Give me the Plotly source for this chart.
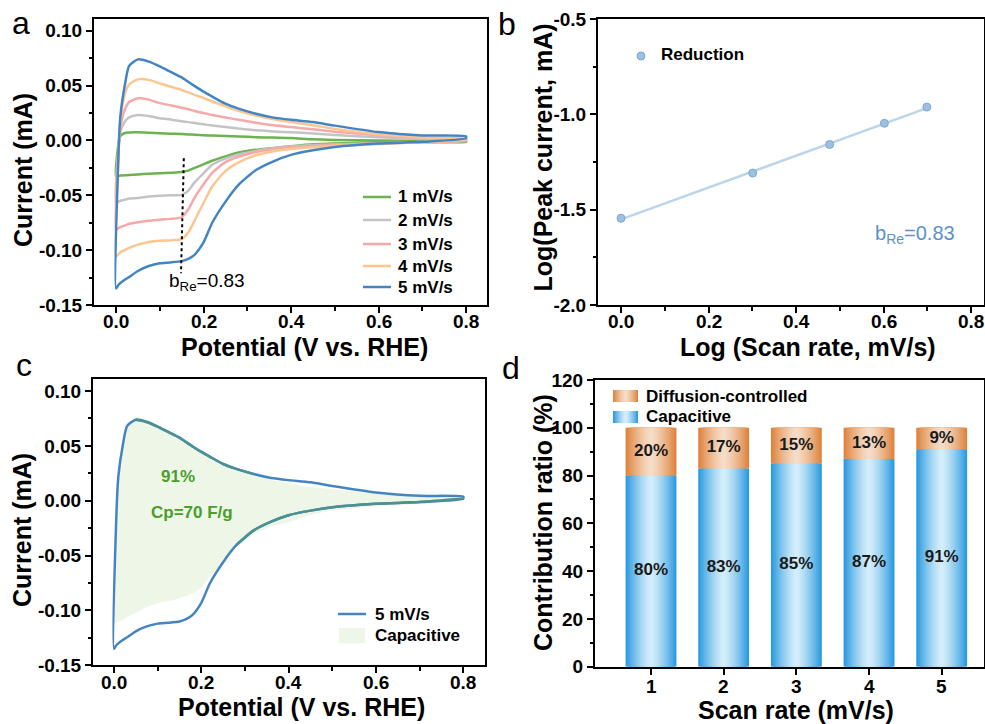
import numpy as np
import plotly.graph_objects as go

W, H = 985, 724
FONT = "Arial, 'Liberation Sans', sans-serif"

# ---------------- Panel a / c : cyclic voltammograms ----------------
V_GRID = [0.0, 0.005, 0.01, 0.02, 0.03, 0.05, 0.075, 0.1, 0.125, 0.15, 0.165, 0.18,
          0.2, 0.22, 0.25, 0.28, 0.32, 0.36, 0.4, 0.45, 0.5, 0.6, 0.7, 0.8]

I_UP_1 = [-0.0323, -0.005, 0.004, 0.0068, 0.0073, 0.0074, 0.007, 0.0065, 0.0062, 0.0058, 0.0055, 0.0052,
          0.0048, 0.0044, 0.004, 0.0036, 0.003, 0.0026, 0.0022, 0.001, 0.0005, 0.0, -0.0004, -0.0006]
I_DN_1 = [-0.0323, -0.0322, -0.032, -0.0318, -0.0315, -0.031, -0.0303, -0.0298, -0.0294, -0.0288, -0.0275, -0.025,
          -0.0218, -0.0185, -0.0145, -0.011, -0.0085, -0.0068, -0.0052, -0.0035, -0.0028, -0.002, -0.0016, -0.0012]

I_UP_2 = [-0.0566, -0.01, 0.008, 0.017, 0.021, 0.0232, 0.0222, 0.0203, 0.019, 0.0175, 0.0167, 0.0158,
          0.0147, 0.0137, 0.0122, 0.0108, 0.0094, 0.0082, 0.0074, 0.0064, 0.005, 0.0029, 0.0014, 0.0005]
I_DN_2 = [-0.0566, -0.056, -0.055, -0.054, -0.053, -0.0525, -0.0512, -0.0505, -0.050, -0.0496, -0.046, -0.038,
          -0.030, -0.0222, -0.0166, -0.0128, -0.0095, -0.0072, -0.0055, -0.0042, -0.0036, -0.0026, -0.0015, -0.0005]

I_UP_3 = [-0.0814, -0.015, 0.012, 0.028, 0.035, 0.0384, 0.0372, 0.034, 0.032, 0.0298, 0.0285, 0.0268,
          0.025, 0.0232, 0.021, 0.0188, 0.0162, 0.0138, 0.0122, 0.0102, 0.008, 0.0047, 0.002, 0.001]
I_DN_3 = [-0.0814, -0.080, -0.079, -0.0775, -0.076, -0.0745, -0.0732, -0.0722, -0.0715, -0.070, -0.063, -0.052,
          -0.040, -0.0295, -0.0198, -0.015, -0.0105, -0.0078, -0.0062, -0.0052, -0.0042, -0.003, -0.0015, 0.0]

I_UP_4 = [-0.1057, -0.02, 0.018, 0.042, 0.051, 0.0557, 0.0552, 0.052, 0.049, 0.046, 0.0438, 0.0415,
          0.0388, 0.0355, 0.0312, 0.027, 0.0226, 0.0192, 0.0168, 0.0138, 0.0105, 0.0056, 0.0027, 0.0015]
I_DN_4 = [-0.1057, -0.104, -0.102, -0.100, -0.098, -0.095, -0.0925, -0.0914, -0.0911, -0.090, -0.084, -0.0727,
          -0.057, -0.042, -0.028, -0.020, -0.0135, -0.0098, -0.0078, -0.0062, -0.0048, -0.0033, -0.0015, 0.001]

I_UP_5 = [-0.135, -0.02, 0.022, 0.05, 0.068, 0.0739, 0.0718, 0.0675, 0.0625, 0.0575, 0.0535, 0.0495,
          0.0445, 0.040, 0.0335, 0.029, 0.0243, 0.0208, 0.0188, 0.0168, 0.0135, 0.0076, 0.0045, 0.0037]
I_DN_5 = [-0.135, -0.132, -0.130, -0.127, -0.1245, -0.119, -0.1145, -0.112, -0.1112, -0.110, -0.108, -0.104,
          -0.093, -0.075, -0.056, -0.0405, -0.027, -0.019, -0.0132, -0.009, -0.006, -0.0028, -0.0012, 0.002]

# capacitive contribution envelope at 5 mV/s (panel c)
CAP_UP = [-0.112, -0.01, 0.03, 0.056, 0.070, 0.0765, 0.0742, 0.0688, 0.0635, 0.0585, 0.0545, 0.0505,
          0.0455, 0.041, 0.034, 0.029, 0.0235, 0.019, 0.0158, 0.0125, 0.0105, 0.0068, 0.0048, 0.002]
CAP_DN = [-0.112, -0.111, -0.110, -0.109, -0.106, -0.102, -0.097, -0.0935, -0.0915, -0.089, -0.0868, -0.0845,
          -0.079, -0.069, -0.0555, -0.0425, -0.031, -0.0232, -0.0195, -0.013, -0.009, -0.0052, -0.003, 0.0]

CV_LABELS = ["1 mV/s", "2 mV/s", "3 mV/s", "4 mV/s", "5 mV/s"]
CV_UP = [I_UP_1, I_UP_2, I_UP_3, I_UP_4, I_UP_5]
CV_DN = [I_DN_1, I_DN_2, I_DN_3, I_DN_4, I_DN_5]
CV_COLORS = ["#6cb24f", "#c4c4c4", "#f7a8a8", "#fbc690", "#4584c2"]

CV_Y_TICKS = [-0.15, -0.10, -0.05, 0.00, 0.05, 0.10]
CV_X_TICKS = [0.0, 0.2, 0.4, 0.6, 0.8]

# ---------------- Panel b : log(ip) vs log(v) ----------------
LOG_SCAN = [0.0, 0.301, 0.477, 0.602, 0.699]
LOG_PEAK = [-1.545, -1.308, -1.158, -1.047, -0.962]
B_Y_TICKS = [-2.0, -1.5, -1.0, -0.5]

# ---------------- Panel d : contribution ratio ----------------
SCAN_RATES = [1, 2, 3, 4, 5]
CAPACITIVE = [80, 83, 85, 87, 91]
DIFFUSION = [20, 17, 15, 13, 9]
D_Y_TICKS = [0, 20, 40, 60, 80, 100, 120]


def px(x):
    return x / W


def py(y):
    return 1 - y / H


def loop(up, dn):
    return V_GRID + V_GRID[::-1], list(up) + list(dn)[::-1]


fig = go.Figure()

# Panel a
for lab, up, dn, col in zip(CV_LABELS, CV_UP, CV_DN, CV_COLORS):
    xs, ys = loop(up, dn)
    fig.add_trace(go.Scatter(x=xs, y=ys, mode="lines", name=lab,
                             line=dict(color=col, width=2.5, shape="spline", smoothing=0.6),
                             xaxis="x", yaxis="y", showlegend=False, hoverinfo="skip"))

# Panel b
coef = np.polyfit(LOG_SCAN, LOG_PEAK, 1)
fit_x = [LOG_SCAN[0], LOG_SCAN[-1]]
fit_y = [coef[0] * v + coef[1] for v in fit_x]
fig.add_trace(go.Scatter(x=fit_x, y=fit_y, mode="lines", line=dict(color="#bcd5ea", width=2.5),
                         xaxis="x2", yaxis="y2", showlegend=False, hoverinfo="skip"))
fig.add_trace(go.Scatter(x=LOG_SCAN, y=LOG_PEAK, mode="markers", name="Reduction",
                         marker=dict(size=8, color="#9cc0e0", line=dict(color="#7ea9d2", width=1)),
                         xaxis="x2", yaxis="y2", showlegend=False, hoverinfo="skip"))

# Panel c
cx, cy = loop(CAP_UP, CAP_DN)
fig.add_trace(go.Scatter(x=cx, y=cy, mode="lines", fill="toself", fillcolor="#edf6e7",
                         line=dict(width=0, color="#edf6e7", shape="spline", smoothing=0.6),
                         xaxis="x3", yaxis="y3", showlegend=False, hoverinfo="skip"))
bx, by = loop(I_UP_5, I_DN_5)
fig.add_trace(go.Scatter(x=bx, y=by, mode="lines", line=dict(color="#4584c2", width=2.5, shape="spline", smoothing=0.6),
                         xaxis="x3", yaxis="y3", showlegend=False, hoverinfo="skip"))
# teal look where the blue curve sits on the capacitive envelope
up_idx = [i for i, v in enumerate(V_GRID) if 0.05 <= v <= 0.32]
dn_idx = [i for i, v in enumerate(V_GRID) if v >= 0.28]
fig.add_trace(go.Scatter(x=[V_GRID[i] for i in up_idx], y=[I_UP_5[i] for i in up_idx], mode="lines",
                         line=dict(color="#4a9190", width=2.5, shape="spline", smoothing=0.6),
                         xaxis="x3", yaxis="y3", showlegend=False, hoverinfo="skip"))
fig.add_trace(go.Scatter(x=[V_GRID[i] for i in dn_idx], y=[I_DN_5[i] for i in dn_idx], mode="lines",
                         line=dict(color="#4a9190", width=2.5, shape="spline", smoothing=0.6),
                         xaxis="x3", yaxis="y3", showlegend=False, hoverinfo="skip"))

# Panel d : gradient bars built from overlaid narrowing layers
BAR_W = 0.7
N_LAYERS = 14
BLUE_EDGE, BLUE_MID = (45, 155, 224), (215, 239, 251)
ORNG_EDGE, ORNG_MID = (222, 132, 62), (246, 222, 202)


def mix(c1, c2, t):
    return "rgb(%d,%d,%d)" % tuple(round(a + (b - a) * t) for a, b in zip(c1, c2))


layers = []
for k in range(N_LAYERS):
    d = 1 - k / N_LAYERS
    t = 1 - d ** 1.4
    layers.append((BAR_W * d, t))

for w, t in layers:
    fig.add_trace(go.Bar(x=SCAN_RATES, y=CAPACITIVE, base=[0] * len(SCAN_RATES), width=w,
                         marker=dict(color=mix(BLUE_EDGE, BLUE_MID, t), line=dict(width=0)),
                         xaxis="x4", yaxis="y4", showlegend=False, hoverinfo="skip"))
    fig.add_trace(go.Bar(x=SCAN_RATES, y=DIFFUSION, base=CAPACITIVE, width=w,
                         marker=dict(color=mix(ORNG_EDGE, ORNG_MID, t), line=dict(width=0)),
                         xaxis="x4", yaxis="y4", showlegend=False, hoverinfo="skip"))

fig.add_trace(go.Scatter(x=SCAN_RATES, y=[c / 2 for c in CAPACITIVE], mode="text",
                         text=["%d%%" % c for c in CAPACITIVE],
                         textfont=dict(family=FONT, size=17, color="#1a1a1a", weight="bold"),
                         xaxis="x4", yaxis="y4", showlegend=False, hoverinfo="skip"))
fig.add_trace(go.Scatter(x=SCAN_RATES, y=[c + d / 2 for c, d in zip(CAPACITIVE, DIFFUSION)], mode="text",
                         text=["%d%%" % d for d in DIFFUSION],
                         textfont=dict(family=FONT, size=17, color="#1a1a1a", weight="bold"),
                         xaxis="x4", yaxis="y4", showlegend=False, hoverinfo="skip"))


# ---------------- axes ----------------
def axis(domain, rng, anchor, is_x, tickvals, ticktext, minor_dtick=None):
    a = dict(domain=domain, range=rng, anchor=anchor, showline=True, mirror=True, automargin=False,
             linecolor="black", linewidth=2, ticks="outside", ticklen=6, tickwidth=2, tickcolor="black",
             showgrid=False, zeroline=False, tickmode="array", tickvals=tickvals, ticktext=ticktext,
             tickfont=dict(family=FONT, size=19, color="black", weight="bold"))
    if is_x:
        # x tick labels are placed as annotations just below the frame
        a["showticklabels"] = False
    if minor_dtick is not None:
        a["minor"] = dict(ticks="outside", ticklen=3.5, tickwidth=1.5, tickcolor="black", dtick=minor_dtick,
                          showgrid=False)
    return a


DOM_TOP = [py(305), py(19)]
DOM_BOT = [py(665.3), py(379.3)]

cv_xt = ["%.1f" % v for v in CV_X_TICKS]
cv_yt = ["%.2f" % v for v in CV_Y_TICKS]

layout = dict(
    width=W, height=H, margin=dict(l=0, r=0, t=0, b=0, autoexpand=False),
    paper_bgcolor="white", plot_bgcolor="white", showlegend=False,
    barmode="overlay", font=dict(family=FONT, color="black"),
    xaxis=axis([px(94), px(487)], [-0.0503, 0.848], "y", True, CV_X_TICKS, cv_xt, 0.1),
    yaxis=axis(DOM_TOP, [-0.15, 0.1107], "x", False, CV_Y_TICKS, cv_yt, 0.025),
    xaxis2=axis([px(598), px(984)], [-0.0526, 0.8297], "y2", True, CV_X_TICKS, cv_xt, 0.1),
    yaxis2=axis(DOM_TOP, [-2.0, -0.5], "x2", False, B_Y_TICKS, ["%.1f" % v for v in B_Y_TICKS], 0.25),
    xaxis3=axis([px(93), px(485)], [-0.048, 0.8497], "y3", True, CV_X_TICKS, cv_xt, 0.1),
    yaxis3=axis(DOM_BOT, [-0.15, 0.1107], "x3", False, CV_Y_TICKS, cv_yt, 0.025),
    xaxis4=axis([px(595), px(984)], [0.2294, 5.582], "y4", True, SCAN_RATES, [str(s) for s in SCAN_RATES]),
    yaxis4=axis([py(666.7), py(380)], [0, 120], "x4", False, D_Y_TICKS, [str(v) for v in D_Y_TICKS], 10),
)
fig.update_layout(**layout)

shapes = []
ann = []


def text(x, y, s, size=17, color="black", weight="bold", xanchor="left", angle=0):
    ann.append(dict(x=px(x), y=py(y), xref="paper", yref="paper", text=s, showarrow=False,
                    xanchor=xanchor, yanchor="middle", textangle=angle,
                    font=dict(family=FONT, size=size, color=color, weight=weight)))


# x tick labels (value positions through each x axis)
for xref, vals, labs, ypix in [("x", CV_X_TICKS, cv_xt, 322), ("x2", CV_X_TICKS, cv_xt, 322),
                               ("x3", CV_X_TICKS, cv_xt, 682),
                               ("x4", SCAN_RATES, [str(s) for s in SCAN_RATES], 686)]:
    for v, s in zip(vals, labs):
        ann.append(dict(x=v, y=py(ypix), xref=xref, yref="paper", text=s, showarrow=False,
                        xanchor="center", yanchor="middle",
                        font=dict(family=FONT, size=19, color="black", weight="bold")))

# axis titles
for s, x, y, ang in [("Potential (V vs. RHE)", 304, 347, 0), ("Current (mA)", 23, 170, -90),
                     ("Log (Scan rate, mV/s)", 808, 347, 0), ("Log(Peak current, mA)", 542.5, 158, -90),
                     ("Potential (V vs. RHE)", 301.5, 707, 0), ("Current (mA)", 22, 530, -90),
                     ("Scan rate (mV/s)", 796, 710, 0), ("Contribution ratio (%)", 543, 523, -90)]:
    text(x, y, s, size=25, xanchor="center", angle=ang)

# panel letters
for lab, x, y in [("a", 21, 23.5), ("b", 507, 24.5), ("c", 24, 365.5), ("d", 511, 368)]:
    ann.append(dict(x=px(x), y=py(y), xref="paper", yref="paper", text=lab, showarrow=False,
                    xanchor="center", yanchor="middle", font=dict(family=FONT, size=32, color="black")))

# legend panel a
for lab, col, y in zip(CV_LABELS, CV_COLORS, [197, 220, 244, 266, 287]):
    shapes.append(dict(type="line", xref="paper", yref="paper", x0=px(363), x1=px(391), y0=py(y), y1=py(y),
                       line=dict(color=col, width=2.5)))
    text(396, y, lab)

# dotted marker line + annotation panel a
shapes.append(dict(type="line", xref="x", yref="y", x0=0.155, x1=0.1486, y0=-0.0162, y1=-0.121,
                   line=dict(color="black", width=2, dash="dot")))
ann.append(dict(x=0.1166, y=-0.1288, xref="x", yref="y", text="b<sub>Re</sub>=0.83", showarrow=False,
                xanchor="left", yanchor="middle", font=dict(family=FONT, size=19, color="black")))

# legend panel b
shapes.append(dict(type="circle", xref="paper", yref="paper", x0=px(637), x1=px(645), y0=py(60), y1=py(52),
                   fillcolor="#9cc0e0", line=dict(color="#7ea9d2", width=1)))
text(659, 55, "Reduction")
ann.append(dict(x=px(873), y=py(235), xref="paper", yref="paper", text="b<sub>Re</sub>=0.83", showarrow=False,
                xanchor="left", yanchor="middle", font=dict(family=FONT, size=20, color="#5b92c9")))

# panel c annotations and legend
text(178, 477, "91%", color="#4a9e2c", xanchor="center")
text(192, 512, "Cp=70 F/g", color="#4a9e2c", xanchor="center")
shapes.append(dict(type="line", xref="paper", yref="paper", x0=px(338), x1=px(366), y0=py(614), y1=py(614),
                   line=dict(color="#4584c2", width=2.5)))
text(373, 614, "5 mV/s")
shapes.append(dict(type="rect", xref="paper", yref="paper", x0=px(339), x1=px(365), y0=py(643), y1=py(628),
                   fillcolor="#edf6e7", line=dict(width=0)))
text(373, 635, "Capacitive")

# legend panel d (gradient swatches)
for (y0, y1, edge, mid, lab, ty) in [(390, 402, ORNG_EDGE, ORNG_MID, "Diffusion-controlled", 396),
                                      (411, 423, BLUE_EDGE, BLUE_MID, "Capacitive", 417)]:
    cxp, wpx = 625.5, 25
    for w, t in layers:
        hw = wpx * w / BAR_W / 2
        shapes.append(dict(type="rect", xref="paper", yref="paper", x0=px(cxp - hw), x1=px(cxp + hw),
                           y0=py(y1), y1=py(y0), fillcolor=mix(edge, mid, t), line=dict(width=0)))
    text(644, ty, lab)

fig.update_layout(shapes=shapes, annotations=ann)
fig.write_html("out.html")
